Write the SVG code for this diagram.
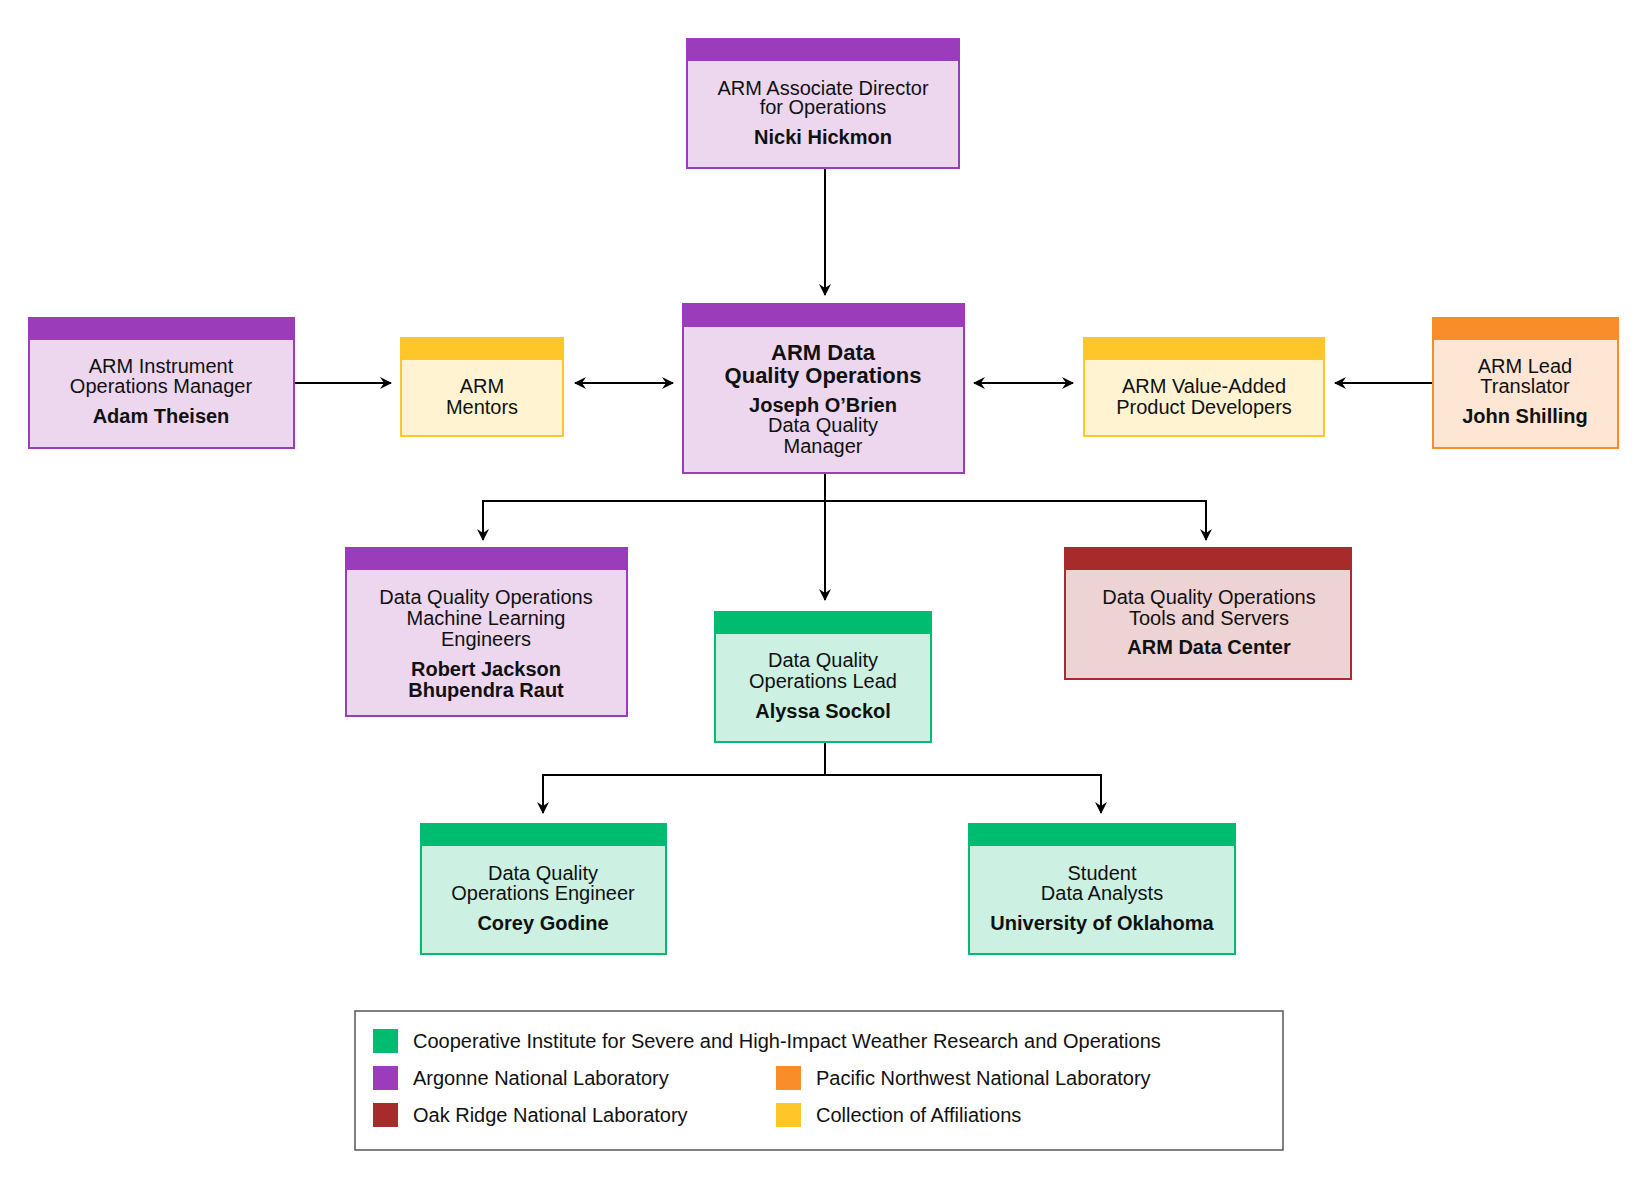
<svg xmlns="http://www.w3.org/2000/svg" width="1650" height="1184" viewBox="0 0 1650 1184">
<style>
text{font-family:"Liberation Sans",Arial,sans-serif;font-size:20px;fill:#111;text-anchor:middle}
.b{font-weight:bold;font-size:20px}
.t{font-weight:bold;font-size:22px}
.lg{text-anchor:start;font-size:20px}
.p rect.f{fill:#ECD7EF;stroke:#9B3DBB;stroke-width:2}.p rect.h{fill:#9B3DBB}
.y rect.f{fill:#FFF3D2;stroke:#FFC62A;stroke-width:2}.y rect.h{fill:#FFC62A}
.o rect.f{fill:#FDE6D4;stroke:#F88D2A;stroke-width:2}.o rect.h{fill:#F88D2A}
.r rect.f{fill:#EED3D4;stroke:#A62B2A;stroke-width:2}.r rect.h{fill:#A62B2A}
.g rect.f{fill:#CCF0E2;stroke:#00BC70;stroke-width:2}.g rect.h{fill:#00BC70}
.c path{fill:none;stroke:#000;stroke-width:2}
</style>
<defs>
<marker id="a" viewBox="0 0 12 12" refX="11" refY="6" markerWidth="12" markerHeight="12" markerUnits="userSpaceOnUse" orient="auto-start-reverse"><path d="M0,0 L12,6 L0,12 L4,6 Z" fill="#000"/></marker>
</defs>
<rect width="1650" height="1184" fill="#fff"/>
<g class="c">
<path d="M825,168 V295" marker-end="url(#a)"/>
<path d="M294,383 H391" marker-end="url(#a)"/>
<path d="M575,383 H673" marker-start="url(#a)" marker-end="url(#a)"/>
<path d="M974,383 H1073" marker-start="url(#a)" marker-end="url(#a)"/>
<path d="M1433,383 H1335" marker-end="url(#a)"/>
<path d="M825,473 V600" marker-end="url(#a)"/>
<path d="M483,540 V501 H1206 V540" marker-end="url(#a)"/>
<path d="M483,501 V540" marker-end="url(#a)"/>
<path d="M825,742 V775 H543 V813" marker-end="url(#a)"/>
<path d="M825,775 H1101 V813" marker-end="url(#a)"/>
</g>
<g id="director" class="p"><rect class="f" x="687" y="39" width="272" height="129"/><rect class="h" x="687" y="39" width="272" height="22"/>
<text x="823" y="95">ARM Associate Director</text><text x="823" y="114">for Operations</text><text class="b" x="823" y="144">Nicki Hickmon</text></g>
<g id="main" class="p"><rect class="f" x="683" y="304" width="281" height="169"/><rect class="h" x="683" y="304" width="281" height="23"/>
<text class="t" x="823" y="360">ARM Data</text><text class="t" x="823" y="383">Quality Operations</text><text class="b" x="823" y="412">Joseph O’Brien</text><text x="823" y="432">Data Quality</text><text x="823" y="453">Manager</text></g>
<g id="instrument" class="p"><rect class="f" x="29" y="318" width="265" height="130"/><rect class="h" x="29" y="318" width="265" height="22"/>
<text x="161" y="373">ARM Instrument</text><text x="161" y="393">Operations Manager</text><text class="b" x="161" y="423">Adam Theisen</text></g>
<g id="mentors" class="y"><rect class="f" x="401" y="338" width="162" height="98"/><rect class="h" x="401" y="338" width="162" height="22"/>
<text x="482" y="393">ARM</text><text x="482" y="414">Mentors</text></g>
<g id="vap" class="y"><rect class="f" x="1084" y="338" width="240" height="98"/><rect class="h" x="1084" y="338" width="240" height="22"/>
<text x="1204" y="393">ARM Value-Added</text><text x="1204" y="414">Product Developers</text></g>
<g id="translator" class="o"><rect class="f" x="1433" y="318" width="185" height="130"/><rect class="h" x="1433" y="318" width="185" height="22"/>
<text x="1525" y="373">ARM Lead</text><text x="1525" y="393">Translator</text><text class="b" x="1525" y="423">John Shilling</text></g>
<g id="ml" class="p"><rect class="f" x="346" y="548" width="281" height="168"/><rect class="h" x="346" y="548" width="281" height="22"/>
<text x="486" y="604">Data Quality Operations</text><text x="486" y="625">Machine Learning</text><text x="486" y="646">Engineers</text><text class="b" x="486" y="676">Robert Jackson</text><text class="b" x="486" y="697">Bhupendra Raut</text></g>
<g id="tools" class="r"><rect class="f" x="1065" y="548" width="286" height="131"/><rect class="h" x="1065" y="548" width="286" height="22"/>
<text x="1209" y="604">Data Quality Operations</text><text x="1209" y="625">Tools and Servers</text><text class="b" x="1209" y="654">ARM Data Center</text></g>
<g id="lead" class="g"><rect class="f" x="715" y="612" width="216" height="130"/><rect class="h" x="715" y="612" width="216" height="22"/>
<text x="823" y="667">Data Quality</text><text x="823" y="688">Operations Lead</text><text class="b" x="823" y="718">Alyssa Sockol</text></g>
<g id="engineer" class="g"><rect class="f" x="421" y="824" width="245" height="130"/><rect class="h" x="421" y="824" width="245" height="22"/>
<text x="543" y="880">Data Quality</text><text x="543" y="900">Operations Engineer</text><text class="b" x="543" y="930">Corey Godine</text></g>
<g id="students" class="g"><rect class="f" x="969" y="824" width="266" height="130"/><rect class="h" x="969" y="824" width="266" height="22"/>
<text x="1102" y="880">Student</text><text x="1102" y="900">Data Analysts</text><text class="b" x="1102" y="930">University of Oklahoma</text></g>
<g id="legend">
<rect x="355" y="1011" width="928" height="139" fill="#fff" stroke="#555" stroke-width="1.5"/>
<rect x="373" y="1029" width="25" height="24" fill="#00BC70"/><text class="lg" x="413" y="1048">Cooperative Institute for Severe and High-Impact Weather Research and Operations</text>
<rect x="373" y="1066" width="25" height="24" fill="#9B3DBB"/><text class="lg" x="413" y="1085">Argonne National Laboratory</text>
<rect x="373" y="1103" width="25" height="24" fill="#A62B2A"/><text class="lg" x="413" y="1122">Oak Ridge National Laboratory</text>
<rect x="776" y="1066" width="25" height="24" fill="#F88D2A"/><text class="lg" x="816" y="1085">Pacific Northwest National Laboratory</text>
<rect x="776" y="1103" width="25" height="24" fill="#FFC62A"/><text class="lg" x="816" y="1122">Collection of Affiliations</text>
</g>
</svg>
